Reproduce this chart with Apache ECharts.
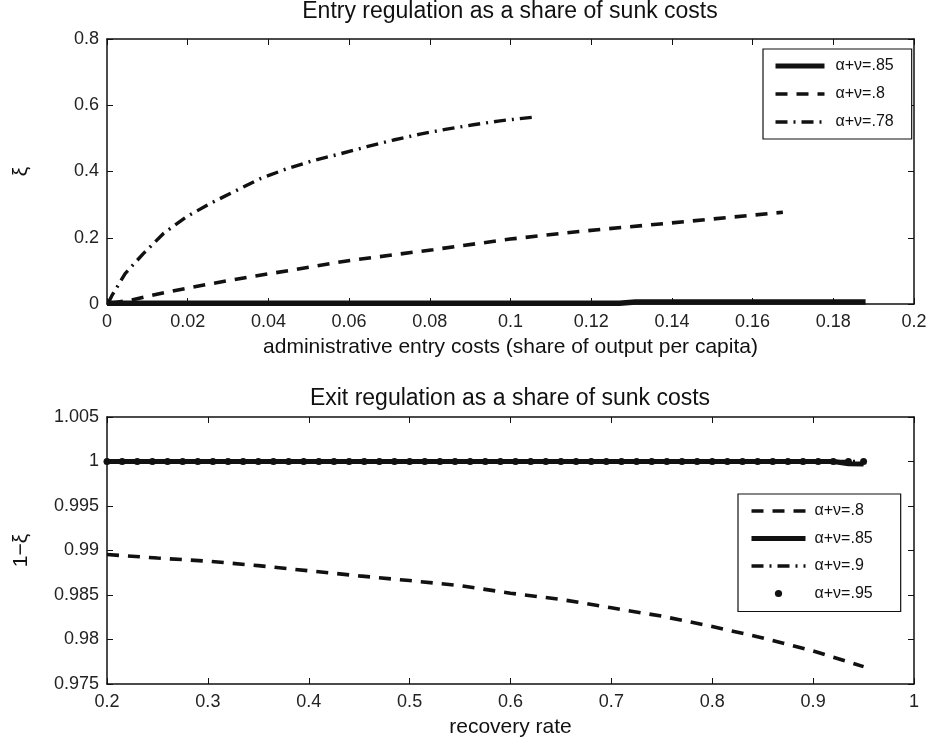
<!DOCTYPE html>
<html>
<head>
<meta charset="utf-8">
<script src="https://cdn.jsdelivr.net/npm/echarts@6/dist/echarts.min.js"></script>
<style>
html,body{margin:0;padding:0;background:#fff;}
#chart{width:932px;height:739px;}
</style>
</head>
<body>
<div id="chart"></div>
<script>
// ---------- Top panel: entry regulation ----------
const entryTitle = 'Entry regulation as a share of sunk costs';
const entryXName = 'administrative entry costs (share of output per capita)';
const entryYName = 'ξ';
const entryNames = ['α+ν=.85', 'α+ν=.8', 'α+ν=.78'];

const entryX85 = [0, 0.127, 0.131, 0.188];
const entryY85 = [0.002, 0.002, 0.006, 0.006];

const entryX80 = [0.001, 0.006, 0.0144, 0.0247, 0.0354, 0.0462, 0.0594, 0.0808, 0.0999, 0.117, 0.14, 0.1675];
const entryY80 = [0.002, 0.012, 0.035, 0.059, 0.082, 0.103, 0.130, 0.164, 0.196, 0.219, 0.245, 0.277];

const entryX78 = [0.0003, 0.0012, 0.0045, 0.009, 0.014, 0.0197, 0.0255, 0.0313, 0.0379, 0.0445, 0.0511, 0.0577, 0.0644, 0.071, 0.0776, 0.0842, 0.0908, 0.0974, 0.1065];
const entryY78 = [0.003, 0.025, 0.092, 0.152, 0.213, 0.263, 0.303, 0.338, 0.378, 0.408, 0.433, 0.453, 0.475, 0.495, 0.513, 0.528, 0.541, 0.553, 0.565];

// ---------- Bottom panel: exit regulation ----------
const exitTitle = 'Exit regulation as a share of sunk costs';
const exitXName = 'recovery rate';
const exitYName = '1−ξ';
const exitNames = ['α+ν=.8', 'α+ν=.85', 'α+ν=.9', 'α+ν=.95'];

const exitX80 = [0.2, 0.25, 0.3, 0.35, 0.4, 0.45, 0.5, 0.55, 0.6, 0.65, 0.7, 0.75, 0.8, 0.85, 0.9, 0.95];
const exitY80 = [0.98955, 0.98915, 0.98880, 0.98830, 0.98772, 0.98715, 0.98662, 0.98606, 0.98520, 0.98450, 0.98356, 0.98262, 0.98146, 0.98017, 0.97872, 0.97695];

const exitX85 = [0.2, 0.92, 0.935, 0.95];
const exitY85 = [1, 1, 0.99975, 0.99972];

const exitX90 = [0.2, 0.95];
const exitY90 = [1, 1];

const exitX95 = [0.2, 0.215, 0.23, 0.245, 0.26, 0.275, 0.29, 0.305, 0.32, 0.335, 0.35, 0.365, 0.38, 0.395, 0.41, 0.425, 0.44, 0.455, 0.47, 0.485, 0.5, 0.515, 0.53, 0.545, 0.56, 0.575, 0.59, 0.605, 0.62, 0.635, 0.65, 0.665, 0.68, 0.695, 0.71, 0.725, 0.74, 0.755, 0.77, 0.785, 0.8, 0.815, 0.83, 0.845, 0.86, 0.875, 0.89, 0.905, 0.92, 0.935, 0.95];
const exitY95 = exitX95.map(() => 1);

// ---------- helpers ----------
const zip = (xs, ys) => xs.map((x, i) => [x, ys[i]]);
const FONT = '"Liberation Sans", Arial, Helvetica, sans-serif';
const INK = '#111';

function mainX(gridIndex, min, max, interval, name, fmt) {
  return {
    type: 'value', gridIndex, min, max, interval, position: 'bottom',
    name, nameLocation: 'middle', nameGap: 33,
    nameTextStyle: { fontFamily: FONT, fontSize: 21, color: INK },
    axisLine: { show: true, onZero: false, lineStyle: { color: INK, width: 1.5 } },
    axisTick: { show: true, inside: true, length: 6, lineStyle: { color: INK, width: 1 } },
    axisLabel: { fontFamily: FONT, fontSize: 18, color: '#222', margin: 9, formatter: fmt },
    splitLine: { show: false }
  };
}
function mainY(gridIndex, min, max, interval, name, fmt) {
  return {
    type: 'value', gridIndex, min, max, interval, position: 'left',
    name, nameLocation: 'middle', nameGap: 75, nameRotate: 90,
    nameTextStyle: { fontFamily: FONT, fontSize: 21, color: INK },
    axisLine: { show: true, onZero: false, lineStyle: { color: INK, width: 1.5 } },
    axisTick: { show: true, inside: true, length: 6, lineStyle: { color: INK, width: 1 } },
    axisLabel: { fontFamily: FONT, fontSize: 18, color: '#222', margin: 8, formatter: fmt },
    splitLine: { show: false }
  };
}
function mirror(gridIndex, min, max, interval, position) {
  return {
    type: 'value', gridIndex, min, max, interval, position,
    axisLine: { show: true, onZero: false, lineStyle: { color: INK, width: 1.5 } },
    axisTick: { show: true, inside: true, length: 6, lineStyle: { color: INK, width: 1 } },
    axisLabel: { show: false },
    splitLine: { show: false }
  };
}

const f2 = v => String(+v.toFixed(2));
const f3 = v => String(+v.toFixed(3));

const dashed = [12, 9];
const dashDot = [12, 6, 2, 6];
const noDot = { opacity: 0 };

const option = {
  animation: false,
  backgroundColor: '#fff',
  title: [
    { text: entryTitle, left: 510, top: 0, textAlign: 'center', padding: 0,
      textStyle: { fontFamily: FONT, fontSize: 23, fontWeight: 'normal', color: INK } },
    { text: exitTitle, left: 510, top: 387, textAlign: 'center', padding: 0,
      textStyle: { fontFamily: FONT, fontSize: 23, fontWeight: 'normal', color: INK } }
  ],
  grid: [
    { left: 107, top: 39, width: 807, height: 265 },
    { left: 107, top: 417, width: 807, height: 267 }
  ],
  xAxis: [
    mainX(0, 0, 0.2, 0.02, entryXName, f2),
    mirror(0, 0, 0.2, 0.02, 'top'),
    mainX(1, 0.2, 1, 0.1, exitXName, f2),
    mirror(1, 0.2, 1, 0.1, 'top')
  ],
  yAxis: [
    mainY(0, 0, 0.8, 0.2, entryYName, f2),
    mirror(0, 0, 0.8, 0.2, 'right'),
    mainY(1, 0.975, 1.005, 0.005, exitYName, f3),
    mirror(1, 0.975, 1.005, 0.005, 'right')
  ],
  legend: [
    {
      data: [
        { name: entryNames[0], itemStyle: noDot, lineStyle: { width: 5, type: 'solid' } },
        { name: entryNames[1], itemStyle: noDot, lineStyle: { width: 3.5, type: dashed } },
        { name: entryNames[2], itemStyle: noDot, lineStyle: { width: 3.5, type: dashDot } }
      ],
      orient: 'vertical', left: 763, top: 49,
      itemWidth: 49, itemHeight: 9, itemGap: 12,
      padding: [9, 18, 9, 10],
      borderColor: INK, borderWidth: 1.2, backgroundColor: '#fff', borderRadius: 0,
      textStyle: { fontFamily: FONT, fontSize: 16, color: INK, padding: [0, 0, 0, 6], lineHeight: 15 },
      selectedMode: false
    },
    {
      data: [
        { name: exitNames[0], itemStyle: noDot, lineStyle: { width: 3.5, type: dashed } },
        { name: exitNames[1], itemStyle: noDot, lineStyle: { width: 5, type: 'solid' } },
        { name: exitNames[2], itemStyle: noDot, lineStyle: { width: 3.5, type: dashDot } },
        { name: exitNames[3] }
      ],
      orient: 'vertical', left: 738, top: 494,
      itemWidth: 54, itemHeight: 9, itemGap: 11.5,
      padding: [9, 28, 10, 11],
      borderColor: INK, borderWidth: 1.2, backgroundColor: '#fff', borderRadius: 0,
      textStyle: { fontFamily: FONT, fontSize: 16, color: INK, padding: [0, 0, 0, 4], lineHeight: 15 },
      selectedMode: false
    }
  ],
  series: [
    { name: entryNames[0], type: 'line', xAxisIndex: 0, yAxisIndex: 0, data: zip(entryX85, entryY85),
      symbol: 'none', lineStyle: { color: INK, width: 5.5, type: 'solid' }, itemStyle: { color: INK } },
    { name: entryNames[1], type: 'line', xAxisIndex: 0, yAxisIndex: 0, data: zip(entryX80, entryY80),
      symbol: 'none', lineStyle: { color: INK, width: 3.6, type: dashed }, itemStyle: { color: INK } },
    { name: entryNames[2], type: 'line', xAxisIndex: 0, yAxisIndex: 0, data: zip(entryX78, entryY78),
      symbol: 'none', lineStyle: { color: INK, width: 3.4, type: dashDot }, itemStyle: { color: INK } },

    { name: exitNames[0], type: 'line', xAxisIndex: 2, yAxisIndex: 2, data: zip(exitX80, exitY80),
      symbol: 'none', lineStyle: { color: INK, width: 3.6, type: dashed }, itemStyle: { color: INK } },
    { name: exitNames[2], type: 'line', xAxisIndex: 2, yAxisIndex: 2, data: zip(exitX90, exitY90),
      symbol: 'none', lineStyle: { color: INK, width: 3.4, type: dashDot }, itemStyle: { color: INK } },
    { name: exitNames[1], type: 'line', xAxisIndex: 2, yAxisIndex: 2, data: zip(exitX85, exitY85),
      symbol: 'none', lineStyle: { color: INK, width: 5, type: 'solid' }, itemStyle: { color: INK } },
    { name: exitNames[3], type: 'line', xAxisIndex: 2, yAxisIndex: 2, data: zip(exitX95, exitY95),
      symbol: 'circle', symbolSize: 7, showSymbol: true, showAllSymbol: true,
      lineStyle: { color: INK, width: 0, opacity: 0 }, itemStyle: { color: INK } }
  ]
};

const chart = echarts.init(document.getElementById('chart'), null, { renderer: 'canvas' });
chart.setOption(option);
</script>
</body>
</html>
